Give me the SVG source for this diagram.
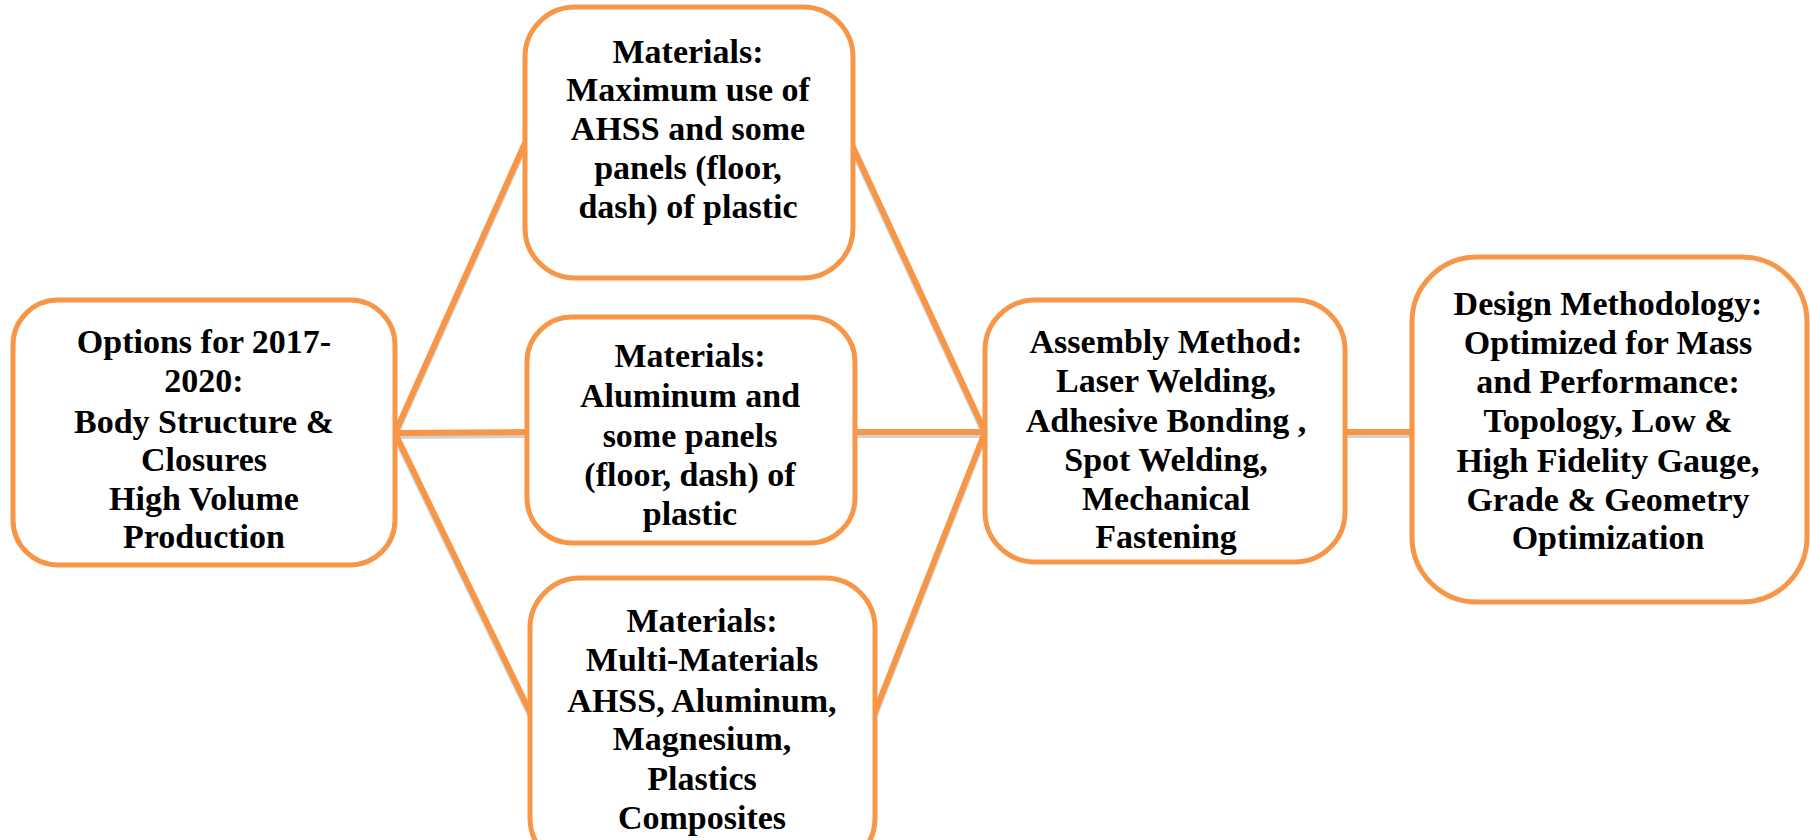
<svg xmlns="http://www.w3.org/2000/svg" width="1810" height="840" viewBox="0 0 1810 840">
<defs>
<style>
.box{fill:#fff;stroke:#F79646;stroke-width:5}
.ln{stroke:#F79646;stroke-width:6;fill:none;stroke-linecap:round}
.sh{stroke:#000;stroke-opacity:0.18;stroke-width:6;fill:none}
.t{font-family:"Liberation Serif","Times New Roman",serif;font-weight:bold;font-size:34px;fill:#000;text-anchor:middle}
</style>
</defs>
<rect width="1810" height="840" fill="#fff"/>
<g id="connectors">
<g class="sh" transform="translate(0,3)">
<line x1="395" y1="433" x2="525" y2="143"/>
<line x1="395" y1="433" x2="527" y2="432"/>
<line x1="395" y1="433" x2="530" y2="712"/>
<line x1="853" y1="147" x2="985" y2="432"/>
<line x1="855" y1="432" x2="985" y2="432"/>
<line x1="875" y1="712" x2="985" y2="432"/>
<line x1="1345" y1="432" x2="1412" y2="432"/>
</g>
<line class="ln" x1="395" y1="433" x2="525" y2="143"/>
<line class="ln" x1="395" y1="433" x2="527" y2="432"/>
<line class="ln" x1="395" y1="433" x2="530" y2="712"/>
<line class="ln" x1="853" y1="147" x2="985" y2="432"/>
<line class="ln" x1="855" y1="432" x2="985" y2="432"/>
<line class="ln" x1="875" y1="712" x2="985" y2="432"/>
<line class="ln" x1="1345" y1="432" x2="1412" y2="432"/>
</g>
<g id="options">
<rect class="box" x="13" y="300" width="382" height="265" rx="45"/>
<text class="t"><tspan x="204" y="353">Options for 2017-</tspan><tspan x="204" y="392">2020:</tspan><tspan x="204" y="433">Body Structure &amp;</tspan><tspan x="204" y="471">Closures</tspan><tspan x="204" y="510">High Volume</tspan><tspan x="204" y="548">Production</tspan></text>
</g>
<g id="mat-ahss">
<rect class="box" x="525" y="7" width="328" height="271" rx="50"/>
<text class="t"><tspan x="688" y="63">Materials:</tspan><tspan x="688" y="101">Maximum use of</tspan><tspan x="688" y="140">AHSS and some</tspan><tspan x="688" y="179">panels (floor,</tspan><tspan x="688" y="218">dash) of plastic</tspan></text>
</g>
<g id="mat-aluminum">
<rect class="box" x="527" y="317" width="328" height="226" rx="45"/>
<text class="t"><tspan x="690" y="367">Materials:</tspan><tspan x="690" y="407">Aluminum and</tspan><tspan x="690" y="447">some panels</tspan><tspan x="690" y="486">(floor, dash) of</tspan><tspan x="690" y="525">plastic</tspan></text>
</g>
<g id="mat-multi">
<rect class="box" x="530" y="578" width="345" height="290" rx="50"/>
<text class="t"><tspan x="702" y="632">Materials:</tspan><tspan x="702" y="671">Multi-Materials</tspan><tspan x="702" y="712">AHSS, Aluminum,</tspan><tspan x="702" y="750">Magnesium,</tspan><tspan x="702" y="790">Plastics</tspan><tspan x="702" y="829">Composites</tspan></text>
</g>
<g id="assembly">
<rect class="box" x="985" y="300" width="360" height="262" rx="50"/>
<text class="t"><tspan x="1166" y="353">Assembly Method:</tspan><tspan x="1166" y="392">Laser Welding,</tspan><tspan x="1166" y="432">Adhesive Bonding ,</tspan><tspan x="1166" y="471">Spot Welding,</tspan><tspan x="1166" y="510">Mechanical</tspan><tspan x="1166" y="548">Fastening</tspan></text>
</g>
<g id="design">
<rect class="box" x="1412" y="257" width="395" height="345" rx="65"/>
<text class="t"><tspan x="1608" y="315">Design Methodology:</tspan><tspan x="1608" y="354">Optimized for Mass</tspan><tspan x="1608" y="393">and Performance:</tspan><tspan x="1608" y="432">Topology, Low &amp;</tspan><tspan x="1608" y="472">High Fidelity Gauge,</tspan><tspan x="1608" y="511">Grade &amp; Geometry</tspan><tspan x="1608" y="549">Optimization</tspan></text>
</g>
</svg>
